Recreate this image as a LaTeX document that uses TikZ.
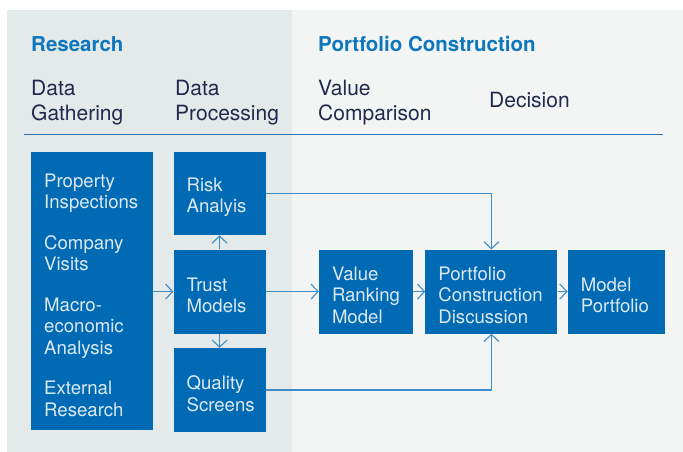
\documentclass[tikz,border=0pt]{standalone}
\usepackage{fontspec}
\setmainfont{TeX Gyre Heros}
\usetikzlibrary{positioning}
\usetikzlibrary{arrows.meta}

\definecolor{bgout}{HTML}{F3F5F5}
\definecolor{bgin}{HTML}{E4E9E9}
\definecolor{boxblue}{HTML}{006BB4}
\definecolor{boxtext}{HTML}{DCE8F4}
\definecolor{headblue}{HTML}{0E76BC}
\definecolor{navy}{HTML}{1F2A4E}
\definecolor{lineblue}{HTML}{3D8DCB}
\definecolor{ruleblue}{HTML}{2A78B9}

\begin{document}
\begin{tikzpicture}[
	x=1pt, y=-1pt,
	box/.style={fill=boxblue, text=boxtext, anchor=north west, align=left, inner xsep=13pt, inner ysep=0pt, font=\fontsize{18.6}{21.5}\selectfont, execute at begin node={\rule{0pt}{21pt}}},
	head/.style={anchor=base west, inner sep=0pt, text=headblue, font=\fontsize{20.5}{22}\selectfont\bfseries},
	stage/.style={anchor=north west, inner sep=0pt, align=left, text=navy, font=\fontsize{21}{25}\selectfont},
	edge/.style={draw=lineblue, line width=1.1pt, -{Straight Barb[length=7pt, width=15pt]}}
	]
	\useasboundingbox (0,0) rectangle (683,452);
	% Background
	\fill[bgout] (7,10) rectangle (683,452);
	\fill[bgin] (7,10) rectangle (292,452);
	
	% Headings
	\node[head] (research) at (31,52) {Research};
	\node[head] (portfolio) at (318,52) {Portfolio Construction};
	\node[stage] (gathering) at (31,80) {Data\\Gathering};
	\node[stage] (processing) at (175,80) {Data\\Processing};
	\node[stage] (comparison) at (318,80) {Value\\Comparison};
	\node[stage, anchor=base west] (decision) at (489,107) {Decision};
	\draw[ruleblue, line width=1pt] (24,134) -- (663,134);
	
	% Nodes
	\node[box, minimum width=122pt, minimum height=278pt, text width=96pt] (gather) at (31,152) {Property\\Inspections\\[19pt]Company\\Visits\\[19pt]Macro-\\economic\\Analysis\\[19pt]External\\Research};
	\node[box, minimum width=92pt, minimum height=83pt, text width=66pt, right=20pt of gather.north east, anchor=north west] (risk) {Risk\\Analyis};
	\node[box, minimum width=92pt, minimum height=84pt, text width=66pt, below=14pt of risk] (trust) {Trust\\Models};
	\node[box, minimum width=92pt, minimum height=84pt, text width=66pt, below=14pt of trust] (quality) {Quality\\Screens};
	\node[box, minimum width=94pt, minimum height=84pt, text width=68pt, right=53pt of trust] (value) {Value\\Ranking\\Model};
	\node[box, minimum width=132pt, minimum height=84pt, text width=106pt, right=12pt of value] (discuss) {Portfolio\\Construction\\Discussion};
	\node[box, minimum width=97pt, minimum height=84pt, text width=71pt, right=10pt of discuss] (model) {Model\\Portfolio};
	
	% Edges
	\draw[edge] (gather.east |- trust.west) -- (trust.west);
	\draw[edge] (trust.north) -- (risk.south);
	\draw[edge] (trust.south) -- (quality.north);
	\draw[edge] (trust) -- (value);
	\draw[edge] (value) -- (discuss);
	\draw[edge] (discuss) -- (model);
	\draw[edge] (risk.east) -| (discuss.north);
	\draw[edge] (quality.east) -| (discuss.south);
\end{tikzpicture}
\end{document}
